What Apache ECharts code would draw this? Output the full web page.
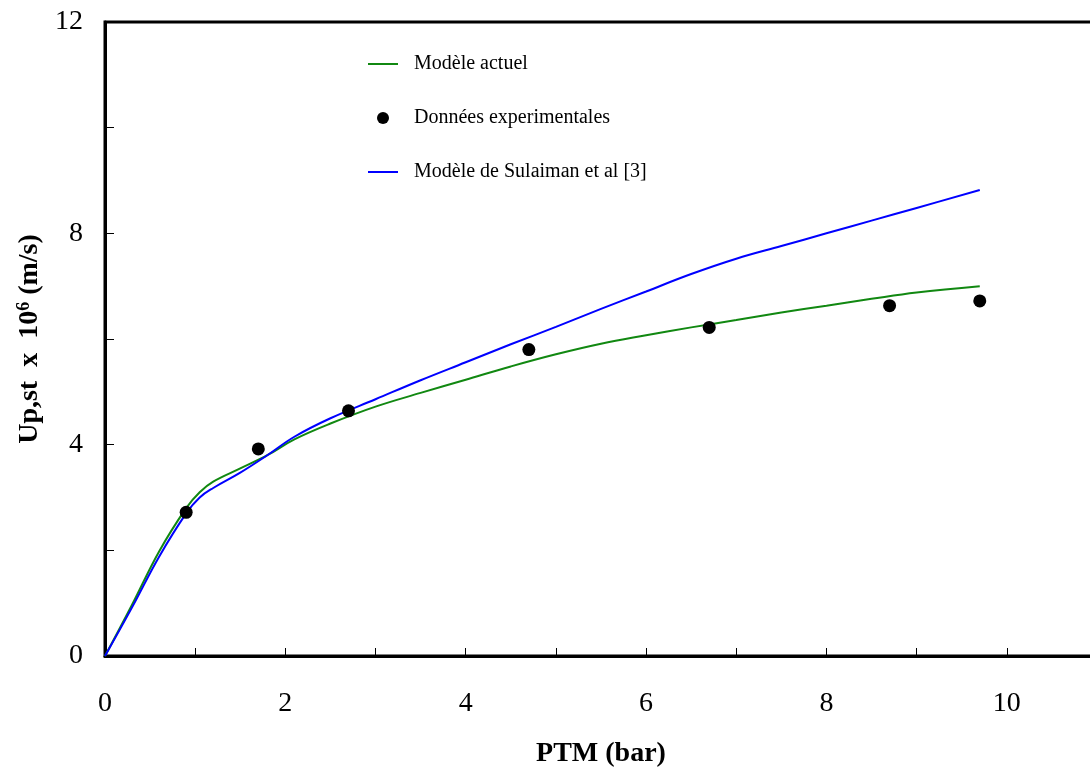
<!DOCTYPE html>
<html>
<head>
<meta charset="utf-8">
<script src="https://cdn.jsdelivr.net/npm/echarts@6/dist/echarts.min.js"></script>
<style>
  html, body { margin: 0; padding: 0; background: #fff; overflow: hidden; }
  #chart { width: 1090px; height: 767px; }
</style>
</head>
<body>
<div id="chart"></div>
<script>
// PTM (bar) sample positions for the two model curves
const curveX = [0, 0.3, 0.6, 0.9, 1.05, 1.2, 1.5, 1.8, 2.1, 2.5, 3, 3.5, 4, 4.5, 5, 5.5, 6, 6.5, 7, 7.5, 8, 8.5, 9, 9.7];
// Modèle actuel
const actuelY = [0, 0.97, 1.98, 2.8, 3.1, 3.3, 3.55, 3.8, 4.1, 4.4, 4.72, 4.98, 5.23, 5.48, 5.71, 5.91, 6.07, 6.22, 6.36, 6.5, 6.63, 6.76, 6.88, 7.0];
// Modèle de Sulaiman et al [3]
const sulaimanY = [0, 0.92, 1.88, 2.7, 3.0, 3.18, 3.47, 3.8, 4.15, 4.5, 4.86, 5.22, 5.56, 5.9, 6.23, 6.57, 6.9, 7.23, 7.52, 7.76, 8.0, 8.24, 8.48, 8.82];
// Données experimentales
const expX = [0.9, 1.7, 2.7, 4.7, 6.7, 8.7, 9.7];
const expY = [2.72, 3.92, 4.64, 5.8, 6.22, 6.63, 6.72];
// axis tick labels that are printed
const xTickLabels = [0, 2, 4, 6, 8, 10];
const yTickLabels = [0, 4, 8, 12];

const pairs = (xs, ys) => xs.map((x, i) => [x, ys[i]]);
const serif = '"Liberation Serif", "Times New Roman", serif';
const lineIcon = 'path://M0,0 L30,0 L30,2 L0,2 Z';

const chart = echarts.init(document.getElementById('chart'), null, { renderer: 'canvas' });
chart.setOption({
  backgroundColor: '#ffffff',
  animation: false,
  grid: {
    left: 105, top: 22, right: -7, bottom: 111,
    outerBoundsMode: 'none',
    containLabel: false,
    show: true, borderColor: '#000', borderWidth: 3, backgroundColor: 'transparent'
  },
  legend: {
    orient: 'vertical',
    left: 363,
    top: 49,
    itemWidth: 30,
    itemHeight: 12,
    itemGap: 34,
    data: [
      { name: 'Modèle actuel', icon: lineIcon },
      { name: 'Données experimentales', icon: 'circle' },
      { name: 'Modèle de Sulaiman et al [3]', icon: lineIcon }
    ],
    textStyle: { fontFamily: serif, fontSize: 20, color: '#000', lineHeight: 20, padding: [0, 0, 0, 11] }
  },
  xAxis: {
    type: 'value',
    min: 0, max: 11, interval: 1,
    name: 'PTM (bar)',
    nameLocation: 'middle',
    nameGap: 84,
    nameTextStyle: { fontFamily: serif, fontSize: 28, fontWeight: 'bold', color: '#000' },
    axisLine: { show: true, onZero: false, lineStyle: { color: '#000', width: 3 } },
    axisTick: { show: true, inside: true, length: 8, lineStyle: { color: '#000', width: 1 } },
    axisLabel: {
      margin: 34, fontFamily: serif, fontSize: 28, color: '#000',
      formatter: v => (xTickLabels.indexOf(v) >= 0 ? String(v) : '')
    },
    splitLine: { show: false }
  },
  yAxis: {
    type: 'value',
    min: 0, max: 12, interval: 2,
    name: '{t|Up,st  x  10}{s|6}{t| (m/s)}',
    nameLocation: 'middle',
    nameGap: 59,
    nameTextStyle: {
      rich: {
        t: { fontFamily: serif, fontSize: 28, fontWeight: 'bold', color: '#000' },
        s: { fontFamily: serif, fontSize: 18, fontWeight: 'bold', color: '#000', verticalAlign: 'top', padding: [0, 0, 12, 0] }
      }
    },
    axisLine: { show: true, onZero: false, lineStyle: { color: '#000', width: 3 } },
    axisTick: { show: true, inside: true, length: 9, lineStyle: { color: '#000', width: 1 } },
    axisLabel: {
      margin: 22, fontFamily: serif, fontSize: 28, color: '#000',
      formatter: v => (yTickLabels.indexOf(v) >= 0 ? String(v) : '')
    },
    splitLine: { show: false }
  },
  series: [
    {
      name: 'Modèle actuel',
      type: 'line',
      data: pairs(curveX, actuelY),
      symbol: 'none',
      smooth: 0.4,
      lineStyle: { color: '#118811', width: 2 },
      itemStyle: { color: '#118811' },
      z: 3
    },
    {
      name: 'Données experimentales',
      type: 'scatter',
      data: pairs(expX, expY),
      symbol: 'circle',
      symbolSize: 13,
      itemStyle: { color: '#000', opacity: 1 },
      z: 5
    },
    {
      name: 'Modèle de Sulaiman et al [3]',
      type: 'line',
      data: pairs(curveX, sulaimanY),
      symbol: 'none',
      smooth: 0.4,
      lineStyle: { color: '#0000ff', width: 2 },
      itemStyle: { color: '#0000ff' },
      z: 4
    }
  ]
});
</script>
</body>
</html>
